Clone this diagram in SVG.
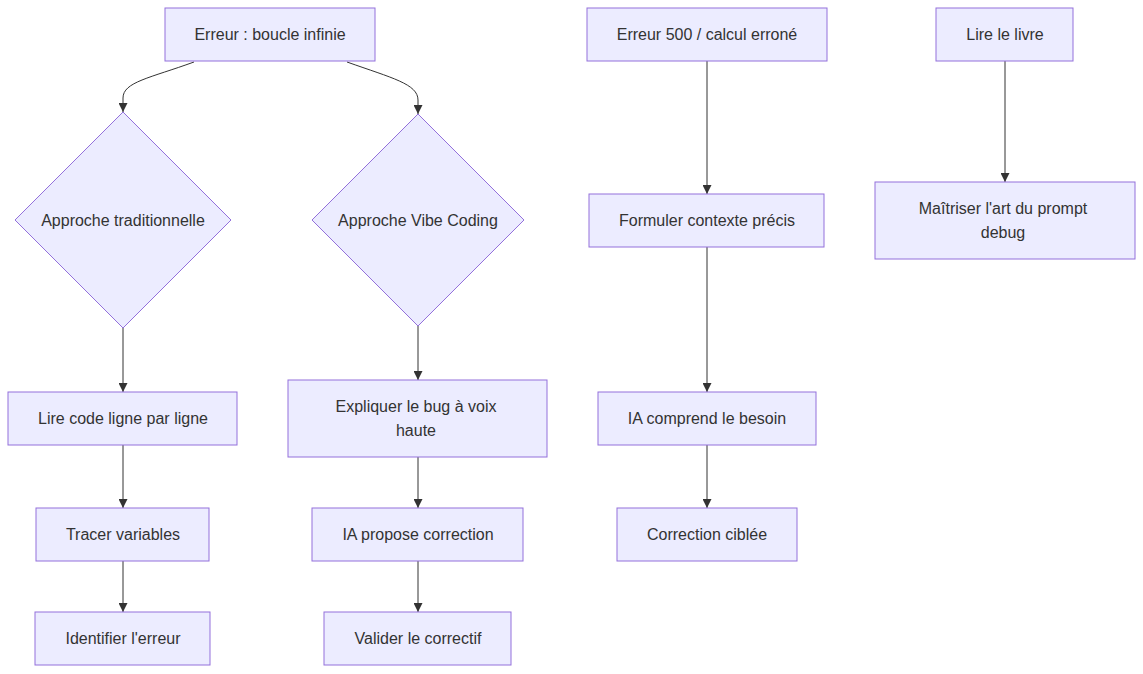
<svg xmlns="http://www.w3.org/2000/svg" width="1143" height="674" viewBox="0 0 1143 674">
<defs>
<style>
.n{fill:#ECECFF;stroke:#9370DB;stroke-width:1}
.t{font-family:"Liberation Sans",Arial,sans-serif;font-size:16px;fill:#333;text-anchor:middle;dominant-baseline:central}
.e{fill:none;stroke:#333;stroke-width:1}
</style>
<marker id="arr" viewBox="0 0 10 10" refX="10" refY="5" markerWidth="9" markerHeight="9" markerUnits="userSpaceOnUse" orient="auto">
<path d="M0,0 L10,5 L0,10 z" fill="#333"/>
</marker>
</defs>
<rect width="1143" height="674" fill="#fff"/>
<g id="edges">
<path class="e" d="M194,62 C150,78 123,82 123,98 L123,112" marker-end="url(#arr)"/>
<path class="e" d="M347,62 C392,78 418,84 418,100 L418,114" marker-end="url(#arr)"/>
<path class="e" d="M123,328 L123,392" marker-end="url(#arr)"/>
<path class="e" d="M123,445 L123,508" marker-end="url(#arr)"/>
<path class="e" d="M123,561 L123,612" marker-end="url(#arr)"/>
<path class="e" d="M418,326 L418,380" marker-end="url(#arr)"/>
<path class="e" d="M418,457 L418,508" marker-end="url(#arr)"/>
<path class="e" d="M418,561 L418,612" marker-end="url(#arr)"/>
<path class="e" d="M707,61 L707,194" marker-end="url(#arr)"/>
<path class="e" d="M707,247 L707,392" marker-end="url(#arr)"/>
<path class="e" d="M707,445 L707,508" marker-end="url(#arr)"/>
<path class="e" d="M1005,61 L1005,182" marker-end="url(#arr)"/>
</g>
<g id="A"><rect class="n" x="165" y="8" width="210" height="53"/><text class="t" x="270" y="34">Erreur : boucle infinie</text></g>
<g id="B"><polygon class="n" points="123,112 231,220 123,328 15,220"/><text class="t" x="123" y="220">Approche traditionnelle</text></g>
<g id="C"><polygon class="n" points="418,114 524,220 418,326 312,220"/><text class="t" x="418" y="220">Approche Vibe Coding</text></g>
<g id="D"><rect class="n" x="8" y="392" width="229" height="53"/><text class="t" x="123" y="418">Lire code ligne par ligne</text></g>
<g id="E"><rect class="n" x="36" y="508" width="173" height="53"/><text class="t" x="123" y="534">Tracer variables</text></g>
<g id="F"><rect class="n" x="35" y="612" width="175" height="53"/><text class="t" x="123" y="638">Identifier l'erreur</text></g>
<g id="G"><rect class="n" x="288" y="380" width="259" height="77"/><text class="t" x="416" y="406">Expliquer le bug à voix</text><text class="t" x="416" y="430">haute</text></g>
<g id="H"><rect class="n" x="312" y="508" width="211" height="53"/><text class="t" x="418" y="534">IA propose correction</text></g>
<g id="I"><rect class="n" x="324" y="612" width="187" height="53"/><text class="t" x="418" y="638">Valider le correctif</text></g>
<g id="J"><rect class="n" x="587" y="8" width="240" height="53"/><text class="t" x="707" y="34">Erreur 500 / calcul erroné</text></g>
<g id="K"><rect class="n" x="589" y="194" width="235" height="53"/><text class="t" x="707" y="220">Formuler contexte précis</text></g>
<g id="L"><rect class="n" x="598" y="392" width="218" height="53"/><text class="t" x="707" y="418">IA comprend le besoin</text></g>
<g id="M"><rect class="n" x="617" y="508" width="180" height="53"/><text class="t" x="707" y="534">Correction ciblée</text></g>
<g id="N"><rect class="n" x="936" y="8" width="137" height="53"/><text class="t" x="1005" y="34">Lire le livre</text></g>
<g id="O"><rect class="n" x="875" y="182" width="260" height="77"/><text class="t" x="1003" y="208">Maîtriser l'art du prompt</text><text class="t" x="1003" y="232">debug</text></g>
</svg>
